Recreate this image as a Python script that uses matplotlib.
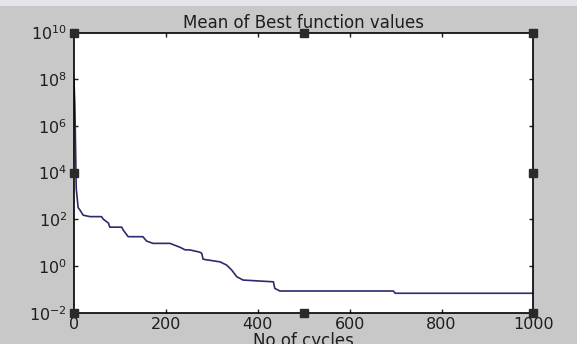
import matplotlib
matplotlib.use("Agg")
import matplotlib.pyplot as plt
from matplotlib.patches import Rectangle
from matplotlib.ticker import LogLocator, NullLocator, LogFormatterMathtext

# --- data (best value vs cycle, break points of the curve) ---
cycles = [0, 2, 5, 9, 13, 20, 35, 60, 64, 75, 78, 104, 107, 118, 150, 158, 172,
          209, 231, 242, 252, 274, 278, 281, 318, 332, 343, 354, 368, 434, 437,
          448, 695, 699, 1000]
best_vals = [1e8, 6.3e6, 2000, 320, 250, 150, 130, 130, 100, 69, 46, 46, 35, 18,
             18, 11.7, 9.3, 9.3, 6.3, 4.9, 4.9, 3.9, 3.5, 1.95, 1.5, 1.1, 0.68,
             0.35, 0.25, 0.21, 0.11, 0.085, 0.085, 0.068, 0.068]

x_ticks = [0, 200, 400, 600, 800, 1000]
title_txt = "Mean of Best function values"
xlabel_txt = "No of cycles"

plt.rcParams['font.family'] = 'DejaVu Sans'
plt.rcParams['mathtext.fontset'] = 'dejavusans'

fig = plt.figure(figsize=(5.77, 3.44), dpi=100)
fig.patch.set_facecolor('#c8c8c8')
# light strip at the very top of the window
fig.patches.append(Rectangle((0, 0.982), 1, 0.018, transform=fig.transFigure,
                             facecolor='#e4e4ea', edgecolor='none'))

ax = fig.add_axes([0.1282, 0.0910, 0.7964, 0.8145])
ax.set_facecolor('white')
ax.semilogy(cycles, best_vals, color='#2b2b6e', linewidth=1.2)

ax.set_xlim(0, 1000)
ax.set_ylim(1e-2, 1e10)
ax.set_xticks(x_ticks)
ax.yaxis.set_major_locator(LogLocator(base=100))
ax.yaxis.set_major_formatter(LogFormatterMathtext(base=10))
ax.yaxis.set_minor_locator(NullLocator())
ax.tick_params(direction='in', top=True, right=True, length=3, width=1,
               labelsize=11.5, colors='#1e1e1e')
ax.tick_params(axis='x', pad=3)
ax.tick_params(axis='y', pad=5)
for s in ax.spines.values():
    s.set_linewidth(1.2)

ax.set_title(title_txt, fontsize=12, pad=3, color='#1e1e1e')
ax.set_xlabel(xlabel_txt, fontsize=12, labelpad=0, color='#1e1e1e')

# MATLAB edit-mode selection handles
hx = [0, 0.5, 1, 0, 1, 0, 0.5, 1]
hy = [1, 1, 1, 0.5, 0.5, 0, 0, 0]
ax.plot(hx, hy, 's', color='#2a2a2a', markersize=5.5, transform=ax.transAxes,
        clip_on=False, zorder=5)

fig.savefig('out.png', dpi=100, facecolor=fig.get_facecolor())
